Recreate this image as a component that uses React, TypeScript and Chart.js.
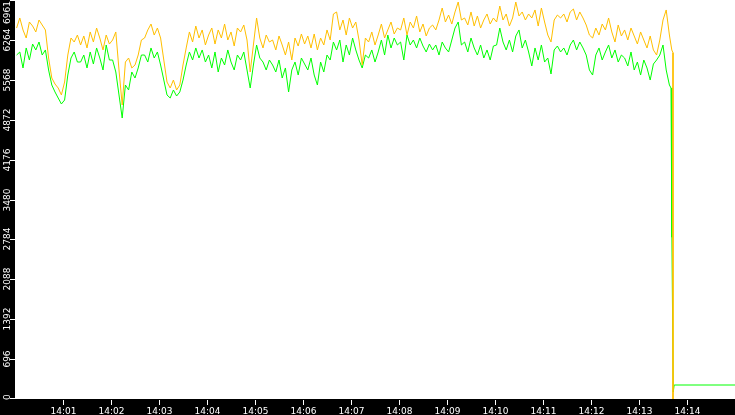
import { useEffect, useRef } from 'react'
import { Chart, registerables } from 'chart.js'
import type { Plugin } from 'chart.js'

Chart.register(...registerables)

// samples start at 14:00:02, one every 4 s
const START = 2
const STEP = 4

const ORANGE = [
  6472, 6647, 6438, 6298, 6577, 6507, 6403, 6612, 6525, 6438,
  5949, 5600, 5495, 5426, 5304, 5530, 6001, 6298, 6228, 6350,
  6176, 6333, 6124, 6403, 6228, 6472, 6298, 6089, 6350, 6193,
  6263, 6403, 5740, 5129, 5879, 5949, 5775, 5827, 6001, 6263,
  6298, 6438, 6542, 6350, 6472, 6298, 5914, 5530, 5426, 5565,
  5391, 5478, 5827, 6124, 6403, 6228, 6507, 6298, 6438, 6176,
  6350, 6472, 6193, 6438, 6298, 6542, 6263, 6403, 6158, 6472,
  6403, 6525, 6263, 5705, 6176, 6647, 6298, 6124, 6350, 6228,
  6263, 6089, 6333, 6176, 6001, 6228, 5914, 6298, 6158, 6368,
  6193, 6333, 6124, 6368, 6089, 6298, 6176, 6438, 6263, 6717,
  6752, 6438, 6612, 6350, 6647, 6472, 6577, 6263, 5827, 6298,
  6228, 6403, 6176, 6350, 6542, 6298, 6438, 6577, 6368, 6472,
  6438, 6647, 6350, 6577, 6472, 6682, 6403, 6542, 6333, 6472,
  6525, 6438, 6612, 6821, 6577, 6699, 6542, 6752, 6926, 6612,
  6647, 6525, 6752, 6507, 6682, 6472, 6612, 6717, 6542, 6647,
  6577, 6856, 6612, 6717, 6507, 6647, 6926, 6682, 6752, 6612,
  6717, 6647, 6787, 6507, 6821, 6577, 6350, 6228, 6612, 6699,
  6647, 6717, 6577, 6752, 6804, 6612, 6752, 6647, 6525, 6350,
  6298, 6472, 6350, 6542, 6438, 6647, 6403, 6228, 6525, 6333,
  6438, 6263, 6472, 6333, 6193, 6403, 6263, 6124, 6333, 6089,
  6001, 6263, 6612, 6787, 6350,
]

const GREEN = [
  6001, 6054, 5775, 6124, 5914, 6193, 6089, 6228, 6001, 6089,
  5740, 5478, 5356, 5251, 5147, 5216, 5652, 5949, 6054, 5879,
  5879, 6001, 5775, 6054, 5844, 6124, 5949, 5740, 6176, 5914,
  5914, 5705, 5304, 4902, 5478, 5391, 5705, 5600, 5775, 6001,
  6001, 5879, 6124, 5949, 6054, 5827, 5565, 5304, 5251, 5391,
  5286, 5356, 5565, 5827, 6054, 5914, 6124, 5949, 6089, 5879,
  6001, 5775, 6054, 5705, 5949, 5827, 6089, 5879, 5740, 6001,
  5914, 6054, 5740, 5426, 5827, 6176, 5949, 5879, 5740, 5914,
  5827, 5705, 5914, 5600, 5775, 5356, 5740, 5879, 5652, 5949,
  5844, 5740, 5949, 5652, 5478, 5879, 5705, 6001, 5914, 6228,
  6089, 6263, 5879, 6176, 6001, 6298, 6089, 5914, 5775, 6001,
  5949, 6089, 5879, 6054, 6263, 6001, 6350, 6124, 6298, 6176,
  6228, 5914, 6350, 6176, 6263, 6124, 6298, 6158, 6054, 6193,
  6089, 6176, 6001, 6228, 6124, 6054, 6263, 6472, 6577, 6176,
  6228, 6054, 6298, 6124, 6001, 6176, 5949, 6089, 5914, 6158,
  6176, 6472, 6228, 6089, 6263, 6054, 6333, 6438, 6124, 6263,
  6054, 5810, 6124, 5914, 6176, 5879, 5949, 5670, 6089, 6158,
  6054, 6124, 6001, 6176, 6263, 6089, 6228, 6124, 6001, 5740,
  5652, 6001, 6124, 5914, 6054, 6176, 5949, 6089, 5879, 6001,
  5949, 5810, 6054, 5740, 5879, 5652, 5914, 5775, 5565, 5844,
  5914, 6001, 6176, 5740, 5478,
]

// the drop at the end (seconds after 14:00)
const ORANGE_TAIL_T = [821, 822.5, 822.5]
const ORANGE_TAIL = [6089, 6040, 0]
const GREEN_TAIL_T = [820, 821, 821.2, 822.8, 824, 900]
const GREEN_TAIL = [5426, 2960, 2820, 122, 244, 244]

const X_TICKS = [60, 120, 180, 240, 300, 360, 420, 480, 540, 600, 660, 720, 780, 840]
const X_LABELS = ['14:01', '14:02', '14:03', '14:04', '14:05', '14:06', '14:07', '14:08', '14:09', '14:10', '14:11', '14:12', '14:13', '14:14']
const Y_TICKS = [0, 696, 1392, 2088, 2784, 3480, 4176, 4872, 5568, 6264, 6961]

function toPoints(values: number[], tailT: number[], tail: number[]) {
  const pts = values.map((v, i) => ({ x: START + i * STEP, y: v }))
  tail.forEach((v, i) => pts.push({ x: tailT[i], y: v }))
  return pts
}

const framePlugin: Plugin<'line'> = {
  id: 'frame',
  beforeDraw(chart) {
    const { ctx, width, height, chartArea: a } = chart
    ctx.save()
    ctx.fillStyle = '#000'
    ctx.fillRect(0, 0, width, height)
    ctx.fillStyle = '#fff'
    ctx.fillRect(a.left, a.top, a.right - a.left, a.bottom - a.top)
    ctx.restore()
  },
  afterDraw(chart) {
    const { ctx, chartArea: a } = chart
    const xs = chart.scales.x
    const ys = chart.scales.y
    ctx.save()
    ctx.fillStyle = '#fff'
    ctx.font = "9px 'DejaVu Sans'"

    // x axis
    ctx.textAlign = 'center'
    ctx.textBaseline = 'alphabetic'
    X_TICKS.forEach((t, i) => {
      const px = Math.round(xs.getPixelForValue(t))
      ctx.fillRect(px, a.bottom + 1, 1, 5)
      ctx.fillText(X_LABELS[i], px + 0.5, a.bottom + 15)
    })

    // y axis, labels turned on their side
    Y_TICKS.forEach(v => {
      const py = Math.round(ys.getPixelForValue(v))
      ctx.fillRect(a.left - 5, Math.min(py, a.bottom - 1), 5, 1)
      const label = String(v)
      const w = ctx.measureText(label).width
      const cy = Math.max(w / 2 + 1, Math.min(py, a.bottom + 1 - w / 2))
      ctx.save()
      ctx.translate(9.5, cy)
      ctx.rotate(-Math.PI / 2)
      ctx.fillText(label, 0, 0)
      ctx.restore()
    })
    ctx.restore()
  },
}

export default function App() {
  const canvasRef = useRef<HTMLCanvasElement>(null)

  useEffect(() => {
    if (!canvasRef.current) return
    const chart = new Chart(canvasRef.current, {
      type: 'line',
      data: {
        datasets: [
          {
            data: toPoints(ORANGE, ORANGE_TAIL_T, ORANGE_TAIL),
            borderColor: '#ffbf00', borderWidth: 1, pointRadius: 0, tension: 0, order: 0,
          },
          {
            data: toPoints(GREEN, GREEN_TAIL_T, GREEN_TAIL),
            borderColor: '#00ff00', borderWidth: 1, pointRadius: 0, tension: 0, order: 1,
          },
        ],
      },
      options: {
        animation: false,
        responsive: true,
        maintainAspectRatio: false,
        devicePixelRatio: 1,
        layout: { padding: { left: 15, top: 0, right: 0, bottom: 16 } },
        plugins: { legend: { display: false }, tooltip: { enabled: false } },
        scales: {
          x: { type: 'linear', min: 0, max: 900, display: false },
          y: { min: 0, max: 6961, display: false },
        },
      },
      plugins: [framePlugin],
    })
    return () => chart.destroy()
  }, [])

  return (
    <div style={{ position: 'fixed', left: 0, top: 0, width: 735, height: 415, background: '#000' }}>
      <canvas ref={canvasRef} />
    </div>
  )
}
